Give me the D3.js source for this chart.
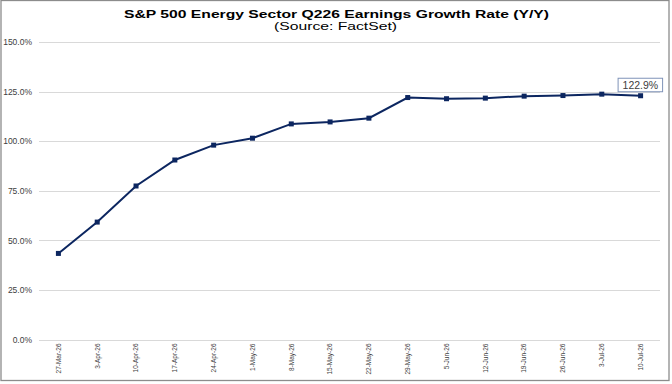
<!DOCTYPE html>
<html>
<head>
<meta charset="utf-8">
<script src="https://cdn.jsdelivr.net/npm/d3@7"></script>
<style>
  body { margin: 0; background: #fff; }
  svg { display: block; font-family: "Liberation Sans", Arial, sans-serif; }
</style>
</head>
<body>
<svg width="672" height="384"></svg>
<script>
// weekly dates and growth rate (%)
var dates = ['27-Mar-26','3-Apr-26','10-Apr-26','17-Apr-26','24-Apr-26','1-May-26','8-May-26','15-May-26',
  '22-May-26','29-May-26','5-Jun-26','12-Jun-26','19-Jun-26','26-Jun-26','3-Jul-26','10-Jul-26'];
var growth = [43.4, 59.2, 77.4, 90.5, 98.0, 101.5, 108.7, 109.7,
  111.6, 122.0, 121.4, 121.7, 122.7, 123.0, 123.7, 122.9];
var yTicks = [0, 25, 50, 75, 100, 125, 150];

var svg = d3.select('svg');
var plotL = 39, plotR = 660, plotT = 42, plotB = 339.5;
var navy = '#0c2660';

// outer frame
svg.append('rect')
  .attr('x', 1).attr('y', 0.5).attr('width', 668).attr('height', 380)
  .style('fill', 'none').style('stroke', '#8c8c8c').style('stroke-width', 1.3);

// title text is a bit wide in the original, stretch it
svg.append('text')
  .attr('x', 124).attr('y', 17.5)
  .attr('textLength', 425).attr('lengthAdjust', 'spacingAndGlyphs')
  .style('font-size', '11.8px').style('font-weight', 'bold').style('fill', '#000')
  .text('S&P 500 Energy Sector Q226 Earnings Growth Rate (Y/Y)');
svg.append('text')
  .attr('x', 274).attr('y', 30)
  .attr('textLength', 123).attr('lengthAdjust', 'spacingAndGlyphs')
  .style('font-size', '11.5px').style('fill', '#000')
  .text('(Source: FactSet)');

var x = d3.scaleBand().domain(dates).range([plotL, plotR]);
var y = d3.scaleLinear().domain([0, 150]).range([plotB, plotT]);

// gridlines
svg.selectAll('.grid')
  .data(yTicks)
  .enter()
  .append('line')
  .attr('x1', plotL).attr('x2', plotR)
  .attr('y1', function(d){return Math.round(y(d)) + 0.5;})
  .attr('y2', function(d){return Math.round(y(d)) + 0.5;})
  .style('stroke', '#d9d9d9').style('stroke-width', 1);

// y labels
var yAxis = d3.axisLeft(y).tickValues(yTicks).tickSize(0).tickPadding(0)
  .tickFormat(function(d){return d.toFixed(1) + '%';});
var ga = svg.append('g').attr('transform', 'translate(32,0)').call(yAxis);
ga.select('.domain').remove();
ga.selectAll('text').style('font-size', '8.5px').style('fill', '#404040')
  .style('font-family', '"Liberation Sans", Arial, sans-serif');

// x labels, rotated
var xAxis = d3.axisBottom(x).tickSize(0).tickPadding(0);
var gx = svg.append('g').attr('transform', 'translate(0,' + (plotB + 3) + ')').call(xAxis);
gx.select('.domain').remove();
gx.selectAll('text')
  .attr('transform', 'rotate(-90)')
  .attr('x', -1).attr('y', 0).attr('dy', '0.35em')
  .attr('text-anchor', 'end')
  .style('font-size', '6.5px').style('fill', '#404040')
  .style('font-family', '"Liberation Sans", Arial, sans-serif');

var pts = dates.map(function(d, i){return {date: d, v: growth[i]};});
var line = d3.line()
  .x(function(d){return x(d.date) + x.bandwidth() / 2;})
  .y(function(d){return y(d.v);});

svg.append('path')
  .datum(pts)
  .attr('d', line)
  .style('fill', 'none').style('stroke', navy).style('stroke-width', 2);

svg.selectAll('.pt')
  .data(pts)
  .enter()
  .append('rect')
  .attr('x', function(d){return x(d.date) + x.bandwidth() / 2 - 2.5;})
  .attr('y', function(d){return y(d.v) - 2.5;})
  .attr('width', 5).attr('height', 5)
  .style('fill', navy);

// last value label
var last = pts[pts.length - 1];
var lx = x(last.date) + x.bandwidth() / 2;
var ly = y(last.v);
svg.append('rect')
  .attr('x', lx - 22.5).attr('y', ly - 17.5).attr('width', 44.5).attr('height', 13.5)
  .style('fill', '#fff').style('stroke', '#7f93b8').style('stroke-width', 1);
svg.append('text')
  .attr('x', lx - 0.2).attr('y', ly - 7)
  .attr('text-anchor', 'middle')
  .style('font-size', '10.5px').style('fill', '#404040')
  .text(last.v.toFixed(1) + '%');
</script>
</body>
</html>
